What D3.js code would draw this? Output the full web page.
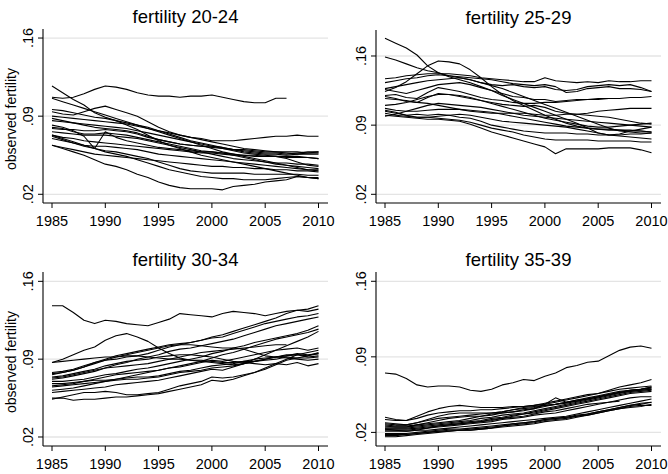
<!DOCTYPE html>
<html>
<head>
<meta charset="utf-8">
<script src="https://cdn.jsdelivr.net/npm/d3@7/dist/d3.min.js"></script>
<style>
  body { margin: 0; background: #fff; }
  svg { display: block; font-family: "Liberation Sans", Arial, sans-serif; }
</style>
</head>
<body>
<svg id="chart" width="668" height="474"></svg>
<script>
const years = [1985, 1986, 1987, 1988, 1989, 1990, 1991, 1992, 1993, 1994, 1995, 1996, 1997,
  1998, 1999, 2000, 2001, 2002, 2003, 2004, 2005, 2006, 2007, 2008, 2009, 2010];
const panelTitles = ["fertility 20-24", "fertility 25-29", "fertility 30-34", "fertility 35-39"];
const xTicks = [1985, 1990, 1995, 2000, 2005, 2010];
const yTicks = [0.02, 0.09, 0.16];
const yTickLabels = [".02", ".09", ".16"];
const yTitle = "observed fertility";

// observed fertility per 1000 women, one row per country (null = not observed)
const fert2024 = [
  [107,106,107,110,114,117,116,114,111,109,108,108,107,108,108,109,107,105,103,102,102,106,106,null,null,null],
  [117,111,105,100,93,89,86,82,78,73,68,64,61,58,55,53,51,49,47,45,43,41,39,37,35,34],
  [94,92,91,94,97,99,96,93,90,85,80,76,73,71,69,67,65,63,61,60,59,58,58,58,57,57],
  [82,80,77,72,61,76,71,68,66,64,62,61,60,59,58,58,57,56,55,55,54,54,53,53,53,52],
  [106,103,100,97,94,91,88,85,82,79,76,73,70,67,64,61,58,56,54,52,50,48,46,44,42,41],
  [90,89,88,87,86,85,84,83,81,79,77,75,73,71,70,68,68,68,69,70,71,72,72,73,72,72],
  [96,95,93,91,89,88,86,84,82,80,77,74,71,68,66,64,62,60,58,57,56,56,55,56,57,58],
  [86,85,84,83,82,81,80,79,77,75,73,71,69,67,65,63,62,60,59,58,57,57,56,57,58,58],
  [79,78,78,77,77,78,77,76,74,71,69,67,65,64,63,63,61,59,57,56,55,54,54,54,53,52],
  [76,75,74,73,73,73,72,71,70,68,66,64,62,60,58,56,54,52,51,50,49,48,48,47,47,46],
  [80,79,76,74,74,75,74,73,71,69,67,65,63,61,59,58,57,55,53,51,49,47,46,45,44,43],
  [73,71,70,68,67,66,65,64,63,62,61,60,59,58,57,57,56,55,55,54,54,54,52,49,46,45],
  [64,62,60,58,56,55,54,53,52,51,50,49,48,47,46,45,45,44,44,43,43,42,42,41,41,40],
  [64,61,58,55,51,47,45,42,38,35,31,28,26,25,25,25,24,27,28,29,31,32,33,36,35,34],
  [73,70,67,64,61,58,56,54,51,48,45,42,40,38,36,35,34,34,33,33,33,34,35,36,35,35],
  [72,69,66,63,61,59,58,56,54,52,49,46,43,41,40,39,39,39,39,38,38,38,38,38,37,37],
  [70,68,66,64,63,63,62,61,60,58,56,55,54,53,52,51,50,49,48,47,46,45,44,43,42,42],
  [88,86,84,82,80,79,78,77,75,72,69,67,65,64,63,62,61,60,60,59,58,58,57,56,56,56]
];

const fert2529 = [
  [178,173,168,161,150,143,139,136,133,129,125,120,116,112,108,104,100,96,92,87,82,80,81,84,86,88],
  [159,156,152,148,145,143,140,138,136,133,130,127,123,119,115,111,107,103,99,95,91,87,84,83,82,82],
  [124,128,134,142,150,155,154,152,146,138,129,121,115,110,105,100,96,92,89,87,86,85,85,84,84,83],
  [137,138,140,141,142,142,142,141,140,138,137,136,135,134,134,138,135,134,133,134,133,135,134,134,135,135],
  [133,135,137,138,140,141,140,139,138,137,136,134,132,131,130,131,129,123,124,127,128,129,127,127,126,124],
  [127,129,131,133,135,136,137,138,136,133,131,130,131,129,128,129,126,125,126,129,130,131,130,131,128,124],
  [126,124,122,125,128,131,132,133,131,128,125,122,119,118,116,116,114,115,116,116,117,117,117,null,null,null],
  [120,121,118,117,123,128,126,124,121,118,116,115,113,112,112,113,113,114,115,116,116,117,117,118,118,119],
  [119,117,114,113,118,122,121,119,117,115,113,111,110,109,110,108,104,102,101,102,104,105,106,107,107,107],
  [117,116,115,113,112,110,108,106,104,103,102,102,102,102,101,100,100,101,101,100,99,98,96,94,92,91],
  [110,111,113,116,119,121,121,120,118,115,112,109,106,103,100,97,95,93,91,89,88,88,89,90,91,92],
  [107,105,104,104,105,106,106,106,105,104,103,101,99,97,95,93,91,89,88,87,86,86,85,85,84,83],
  [105,103,100,101,100,101,100,98,97,94,90,88,86,84,83,82,82,82,81,81,80,80,80,81,81,82],
  [102,100,99,98,98,97,96,95,93,90,87,85,83,80,78,76,75,75,75,75,74,74,74,74,73,73],
  [100,99,98,97,96,96,95,94,91,87,83,80,77,74,71,68,61,66,66,66,66,67,67,67,65,62],
  [104,102,100,98,98,99,100,101,100,98,96,94,93,92,91,90,89,88,86,84,82,80,79,78,77,76],
  [99,101,104,107,110,112,111,110,109,108,106,104,102,100,99,98,97,96,95,94,93,92,91,90,89,88]
];

const fert3034 = [
  [138,138,132,125,122,125,124,122,121,120,123,126,131,130,129,128,131,133,132,131,129,131,133,134,133,135],
  [87,90,94,98,101,107,111,113,110,106,100,95,91,89,88,87,86,85,86,88,90,92,93,95,94,95],
  [87,88,89,90,91,92,92,93,93,92,91,90,90,89,89,88,87,87,88,88,89,90,92,91,91,92],
  [78,79,81,84,87,90,93,95,97,99,101,103,104,105,107,110,112,115,118,121,124,127,131,134,135,138],
  [77,78,80,83,86,89,92,94,96,98,100,102,103,105,107,109,110,113,116,119,122,124,126,128,129,131],
  [72,73,75,77,79,82,85,87,90,92,94,97,99,100,102,104,106,108,111,114,117,120,122,124,126,128],
  [70,70,71,72,74,76,77,79,81,82,84,86,88,90,92,95,97,100,102,105,107,109,111,113,116,120],
  [66,67,68,70,72,74,76,77,78,79,80,82,84,86,88,91,94,96,99,102,105,108,110,112,114,117],
  [60,61,62,63,64,65,67,68,69,70,71,73,75,77,79,81,80,83,86,90,94,98,102,106,110,115],
  [55,55,53,54,54,55,56,56,57,58,59,61,63,65,67,71,70,72,75,78,82,86,90,94,96,98],
  [54,56,58,60,60,61,60,58,58,59,60,63,66,68,70,74,73,74,76,78,81,85,89,91,93,96],
  [68,68,69,70,71,71,72,73,74,74,75,77,79,80,82,84,85,86,88,90,91,92,94,94,93,95],
  [65,66,67,68,69,70,71,72,72,73,74,76,78,79,80,82,83,84,86,88,90,92,93,94,92,93],
  [74,75,77,79,81,84,86,88,89,90,92,93,94,94,93,92,90,88,87,86,85,86,85,87,84,86],
  [76,78,80,83,87,89,90,92,93,95,98,101,103,103,102,101,100,100,99,96,93,92,91,90,89,90],
  [73,74,76,78,80,82,83,84,85,86,88,90,92,94,96,97,98,99,100,101,102,103,103,null,null,null],
  [62,63,64,66,68,70,72,74,76,78,80,82,83,85,87,89,88,90,92,94,96,98,99,100,98,100]
];

const fert3539 = [
  [75,74,70,64,62,63,63,62,59,58,60,64,66,69,68,72,75,80,82,85,86,91,96,99,100,98],
  [34,32,31,35,39,42,44,45,44,43,43,43,44,44,45,47,49,51,53,55,56,59,62,64,66,69],
  [32,31,31,33,36,38,39,40,40,41,41,42,43,44,45,46,48,50,52,54,56,58,60,61,62,63],
  [28,27,27,29,31,33,34,35,36,37,38,39,41,42,43,45,46,48,50,52,54,56,58,59,60,62],
  [27,26,26,27,28,29,30,31,33,35,36,38,39,40,42,46,52,48,49,51,53,55,57,59,60,61],
  [25,25,25,26,27,28,29,30,31,33,34,36,37,38,40,42,44,46,48,50,52,54,56,58,59,60],
  [24,24,24,25,26,27,28,29,30,31,33,34,36,37,39,41,43,45,47,49,51,53,55,57,58,59],
  [23,23,23,24,25,26,27,28,29,30,32,33,35,37,38,40,42,44,46,48,50,52,54,56,57,58],
  [22,22,22,23,24,26,27,28,29,30,31,33,34,35,37,39,40,42,44,46,47,48,49,null,null,null],
  [21,21,21,22,22,23,24,25,26,27,28,29,30,31,32,33,34,35,37,39,41,43,45,47,49,51],
  [19,19,19,20,21,22,23,23,24,25,26,27,28,29,30,32,33,34,35,37,39,41,43,45,47,48],
  [18,18,18,19,20,21,21,22,22,23,24,25,26,27,28,30,31,32,34,36,38,40,42,44,45,45],
  [17,17,18,19,20,21,22,22,23,24,25,26,27,28,29,31,32,33,35,36,38,40,42,43,44,46],
  [16,16,17,18,19,20,21,22,22,23,24,26,28,29,30,32,33,34,36,37,39,41,43,45,46,48],
  [29,28,27,29,32,35,37,38,38,38,38,39,41,43,44,45,46,48,50,51,53,55,57,59,60,62],
  [26,25,25,27,29,31,33,34,35,35,37,38,39,41,42,44,46,47,49,51,53,55,57,58,59,60],
  [23,22,21,22,24,25,26,27,28,29,30,32,33,34,36,37,38,40,42,44,46,48,50,52,53,53]
];

const panelSeries = [fert2024, fert2529, fert3034, fert3539];
// each panel keeps its own y range (not a common axis)
const yDomains = [[0.0122, 0.1681], [0.0112, 0.1863], [0.0119, 0.1684], [0.0074, 0.1686]];

// plot areas: left = y axis, top/bottom = axis extent
const layout = [
  { left: 43, right: 328, top: 29, bottom: 203, yTitle: true },
  { left: 376, right: 661, top: 30, bottom: 203, yTitle: false },
  { left: 43, right: 328, top: 272, bottom: 446, yTitle: true },
  { left: 376, right: 661, top: 272, bottom: 446, yTitle: false }
];

const svg = d3.select("#chart");
svg.append("rect").attr("width", 668).attr("height", 474).attr("fill", "#fff");

layout.forEach((p, k) => {
  const g = svg.append("g");

  const x = d3.scaleLinear().domain([1985, 2010]).range([p.left + 9, p.left + 275.5]);
  const y = d3.scaleLinear().domain(yDomains[k]).range([p.bottom, p.top]);

  // grid lines
  g.selectAll(".grid")
    .data(yTicks)
    .join("line")
    .attr("x1", p.left)
    .attr("x2", p.right)
    .attr("y1", (d) => y(d))
    .attr("y2", (d) => y(d))
    .style("stroke", "#e4e4e4")
    .style("stroke-width", 1.3);

  // country lines
  const line = d3
    .line()
    .defined((d) => d != null)
    .x((d, i) => x(years[i]))
    .y((d) => y(d / 1000));

  g.selectAll(".country")
    .data(panelSeries[k])
    .join("path")
    .attr("d", line)
    .style("fill", "none")
    .style("stroke", "#000")
    .style("stroke-width", 1.1)
    .style("stroke-linejoin", "round");

  // x axis
  const xAxis = g.append("g").attr("transform", `translate(0,${p.bottom})`);
  xAxis.append("line")
    .attr("x1", p.left).attr("x2", p.right)
    .style("stroke", "#000").style("stroke-width", 1.1);
  xAxis.selectAll(".xt")
    .data(xTicks)
    .join("line")
    .attr("x1", (d) => x(d)).attr("x2", (d) => x(d))
    .attr("y1", 0).attr("y2", 5)
    .style("stroke", "#000");
  xAxis.selectAll(".xl")
    .data(xTicks)
    .join("text")
    .attr("x", (d) => x(d))
    .attr("y", 23)
    .attr("text-anchor", "middle")
    .style("font-size", "14.5px")
    .style("fill", "#000")
    .text((d) => d);

  // y axis
  const yAxis = g.append("g").attr("transform", `translate(${p.left},0)`);
  yAxis.append("line")
    .attr("y1", p.top).attr("y2", p.bottom)
    .style("stroke", "#000").style("stroke-width", 1.1);
  yAxis.selectAll(".yt")
    .data(yTicks)
    .join("line")
    .attr("x1", -5).attr("x2", 0)
    .attr("y1", (d) => y(d)).attr("y2", (d) => y(d))
    .style("stroke", "#000");
  yAxis.selectAll(".yl")
    .data(yTicks)
    .join("text")
    .attr("transform", (d) => `translate(-10,${y(d)}) rotate(-90)`)
    .attr("text-anchor", "middle")
    .style("font-size", "14.5px")
    .style("fill", "#000")
    .text((d, i) => yTickLabels[i]);

  if (p.yTitle) {
    g.append("text")
      .attr("transform", `translate(16,${(p.top + p.bottom) / 2 + 3}) rotate(-90)`)
      .attr("text-anchor", "middle")
      .style("font-size", "14px")
      .style("fill", "#000")
      .text(yTitle);
  }

  // panel title
  g.append("text")
    .attr("x", (p.left + p.right) / 2)
    .attr("y", p.top - 6)
    .attr("text-anchor", "middle")
    .style("font-size", "18.5px")
    .style("fill", "#000")
    .text(panelTitles[k]);
});
</script>
</body>
</html>
